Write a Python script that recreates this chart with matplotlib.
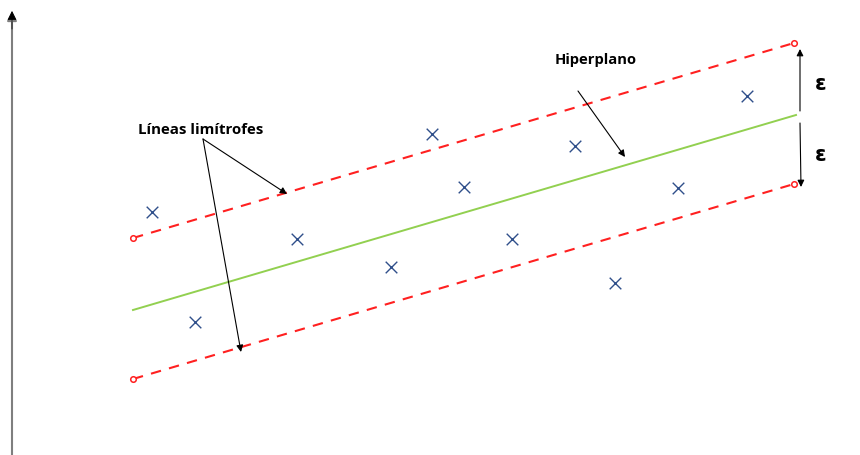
import matplotlib.pyplot as plt

# picture coordinates in pixels (y grows downward)
line_x = [133, 794]
upper_y = [239, 44]
lower_y = [380, 185]
hyper_x = [133, 796]
hyper_y = [311, 116]

pts_x = [152, 297, 195, 391, 432, 464, 512, 575, 615, 678, 747]
pts_y = [213, 240, 323, 268, 135, 188, 240, 147, 284, 189, 97]

label_borders = "Líneas limítrofes"
label_hyper = "Hiperplano"
label_eps = "ε"


def main():
    fig = plt.figure(figsize=(8.6, 4.56), dpi=100)
    ax = fig.add_axes([0, 0, 1, 1])
    ax.set_xlim(0, 860)
    ax.set_ylim(456, 0)
    ax.axis("off")

    # vertical axis with arrowhead
    ax.annotate("", xy=(12, 12), xytext=(12, 456),
                arrowprops=dict(arrowstyle="-|>", color="#7f7f7f", lw=1.5,
                                mutation_scale=14, shrinkA=0, shrinkB=0))
    ax.annotate("", xy=(12, 12), xytext=(12, 30),
                arrowprops=dict(arrowstyle="-|>", color="black", lw=0.5,
                                mutation_scale=14, shrinkA=0, shrinkB=0))

    # boundary lines and hyperplane
    for ys in (upper_y, lower_y):
        ax.plot(line_x, ys, color="#ff2020", lw=1.5, ls=(0, (5, 4)))
        ax.plot(line_x[0], ys[0], "o", ms=4, mfc="white", mec="#ff2020", mew=1.1)
        ax.plot(line_x[1], ys[1], "o", ms=4, mfc="white", mec="#ff2020", mew=1.1)
    ax.plot(hyper_x, hyper_y, color="#92d050", lw=1.4)

    # data points
    ax.scatter(pts_x, pts_y, marker="x", s=70, color="#2f4f8a", lw=1.0, zorder=3)

    arrow = dict(arrowstyle="-|>", color="black", lw=0.8, mutation_scale=10,
                 shrinkA=0, shrinkB=0)
    # labels with arrows
    ax.text(201, 130, label_borders, ha="center", va="center",
            fontsize=10.8, fontweight="bold", family="Open Sans")
    ax.annotate("", xy=(287, 195), xytext=(203, 140), arrowprops=arrow)
    ax.annotate("", xy=(241, 353), xytext=(203, 140), arrowprops=arrow)

    ax.text(596, 60, label_hyper, ha="center", va="center",
            fontsize=10.6, fontweight="bold", family="Open Sans")
    ax.annotate("", xy=(625, 158), xytext=(578, 92), arrowprops=arrow)

    # epsilon arrows
    ax.annotate("", xy=(800, 50), xytext=(800, 112), arrowprops=arrow)
    ax.annotate("", xy=(801, 188), xytext=(800, 124), arrowprops=arrow)
    ax.text(821, 84, label_eps, ha="center", va="center", fontsize=15,
            fontweight="bold", family="DejaVu Sans")
    ax.text(821, 155, label_eps, ha="center", va="center", fontsize=15,
            fontweight="bold", family="DejaVu Sans")

    fig.savefig("out.png", dpi=100)


if __name__ == '__main__':
    main()
